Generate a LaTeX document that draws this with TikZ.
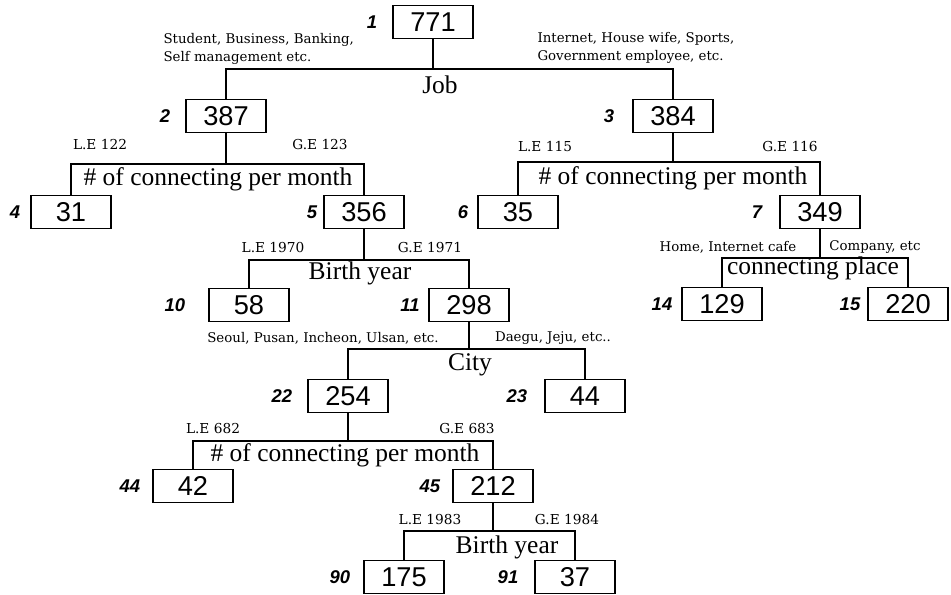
\documentclass[tikz,border=0pt]{standalone}
\usepackage{fontspec}
\setmainfont{Liberation Serif}
\setsansfont{Liberation Sans}
\newfontfamily\notefont{DejaVu Serif}
\usepackage{tikz}
\usetikzlibrary{calc}

\tikzset{
  cnt/.style={draw, line width=0.6pt, minimum width=1.6cm, minimum height=0.66cm,
              inner sep=0pt, font=\sffamily\fontsize{15.5}{15.5}\selectfont},
  idx/.style={font=\sffamily\bfseries\itshape\fontsize{10.5}{11}\selectfont},
  crit/.style={font=\fontsize{14.5}{15}\selectfont, inner sep=1pt},
  note/.style={font=\notefont\fontsize{7.6}{10.5}\selectfont, inner sep=0pt},
  cut/.style={font=\notefont\fontsize{7.8}{8}\selectfont, inner sep=0pt},
}

\begin{document}
\begin{tikzpicture}[x=0.02cm, y=-0.02cm, line width=0.6pt]
  \useasboundingbox (0,0) rectangle (951,595);

  % ---------- count boxes and node numbers ----------
  \foreach \id/\x/\y/\v/\lx in {1/433/22/771/372, 2/226/116/387/165, 3/673/116/384/609,
      4/71/212/31/15, 5/364/212/356/312, 6/518/212/35/463, 7/820/212/349/757,
      10/249/305/58/175, 11/469/305/298/410, 14/722/304/129/662, 15/908/304/220/850,
      22/348/396/254/282, 23/585/396/44/517, 44/193/486/42/130, 45/493/486/212/430,
      90/404/577/175/340, 91/575/577/37/508}{
    \node[cnt] (n\id) at (\x,\y) {\v};
    \node[idx] (i\id) at (\lx,\y) {\id};
  }

  % ---------- splits ----------
  \foreach \p/\l/\r/\y in {1/2/3/69, 2/4/5/164, 3/6/7/162, 5/10/11/260,
      7/14/15/258, 11/22/23/349, 22/44/45/441, 45/90/91/531}{
    \coordinate (s\p) at (0,\y);
    \draw (n\p.south) -- (n\p.south |- s\p);
    \draw (n\l.north) -- (n\l.north |- s\p) -- (n\r.north |- s\p) -- (n\r.north);
  }

  % ---------- split variables ----------
  \node[crit] (c1)  at (440,85)  {Job};
  \node[crit] (c2)  at (218,179) {\# of connecting per month};
  \node[crit] (c3)  at (673,178) {\# of connecting per month};
  \node[crit] (c5)  at (360,273) {Birth year};
  \node[crit] (c7)  at (813,268) {connecting place};
  \node[crit] (c11) at (470,365) {City};
  \node[crit] (c22) at (345,455) {\# of connecting per month};
  \node[crit] (c45) at (507,547) {Birth year};

  % ---------- branch conditions ----------
  \node[note,align=left,anchor=west] (b2) at (163,49)
        {Student, Business, Banking,\\Self management etc.};
  \node[note,align=left,anchor=west] (b3) at (537,48)
        {Internet, House wife, Sports,\\Government employee, etc.};
  \node[cut] (b4)  at (100,145) {L.E 122};
  \node[cut] (b5)  at (320,145) {G.E 123};
  \node[cut] (b6)  at (545,147) {L.E 115};
  \node[cut] (b7)  at (790,147) {G.E 116};
  \node[cut] (b10) at (273,248) {L.E 1970};
  \node[cut] (b11) at (430,248) {G.E 1971};
  \node[note] (b14) at (728,247) {Home, Internet cafe};
  \node[note] (b15) at (875,247) {Company, etc};
  \node[note] (b22) at (323,338) {Seoul, Pusan, Incheon, Ulsan, etc.};
  \node[note] (b23) at (553,338) {Daegu, Jeju, etc..};
  \node[cut] (b44) at (213,429) {L.E 682};
  \node[cut] (b45) at (467,429) {G.E 683};
  \node[cut] (b90) at (430,520) {L.E 1983};
  \node[cut] (b91) at (567,520) {G.E 1984};

\end{tikzpicture}
\end{document}
